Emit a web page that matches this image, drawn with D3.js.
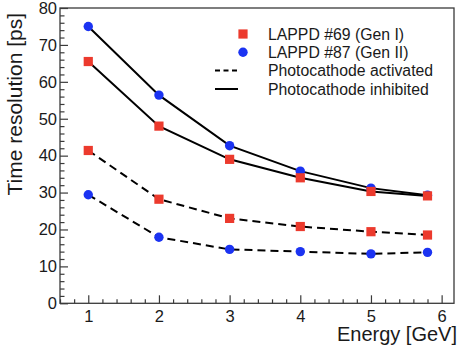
<!DOCTYPE html>
<html>
<head>
<meta charset="utf-8">
<script src="https://cdn.jsdelivr.net/npm/d3@7"></script>
<style>
  html, body { margin: 0; padding: 0; background: #fff; }
  svg { display: block; font-family: "Liberation Sans", Arial, Helvetica, sans-serif; }
</style>
</head>
<body>
<svg id="chart" width="460" height="349"></svg>
<script>
// Beam energies [GeV]
const energies = [1, 2, 3, 4, 5, 5.8];

// Time resolution [ps]
const gen1Inhibited = [65.5, 48.0, 39.0, 34.0, 30.3, 29.1];
const gen2Inhibited = [75.0, 56.4, 42.7, 35.8, 31.2, 29.3];
const gen1Activated = [41.4, 28.2, 23.0, 20.8, 19.4, 18.5];
const gen2Activated = [29.4, 17.9, 14.6, 14.0, 13.4, 13.8];

const xTicks = [1, 2, 3, 4, 5, 6];
const yTicks = [0, 10, 20, 30, 40, 50, 60, 70, 80];

const legendLabels = [
  "LAPPD #69 (Gen I)",
  "LAPPD #87 (Gen II)",
  "Photocathode activated",
  "Photocathode inhibited"
];

const RED = "#ec3a2d";
const BLUE = "#1b33f2";
const INK = "#1a1a1a";

const svg = d3.select("#chart");
const frame = { left: 60, right: 454, top: 8, bottom: 303.3 };

const x = d3.scaleLinear().domain([0.6, 6.175]).range([frame.left, frame.right]);
const y = d3.scaleLinear().domain([0, 80]).range([frame.bottom, frame.top]);

// Frame box
svg.append("rect")
  .attr("x", frame.left).attr("y", frame.top)
  .attr("width", frame.right - frame.left)
  .attr("height", frame.bottom - frame.top)
  .attr("fill", "none").attr("stroke", "#3a3a3a").attr("stroke-width", 1.3);

// Minor ticks (drawn inward)
const xMinor = d3.range(0.6, 6.1751, 0.2).filter(v => Math.abs(v - Math.round(v)) > 1e-6);
svg.append("g")
  .attr("transform", `translate(0,${frame.bottom})`)
  .call(d3.axisBottom(x).tickValues(xMinor).tickSize(-4).tickFormat(""))
  .call(g => g.select(".domain").remove())
  .selectAll("line").attr("stroke", "#3a3a3a").attr("stroke-width", 1.2);

const yMinor = d3.range(0, 80, 2).filter(v => v % 10 !== 0);
svg.append("g")
  .attr("transform", `translate(${frame.left},0)`)
  .call(d3.axisLeft(y).tickValues(yMinor).tickSize(-4.5).tickFormat(""))
  .call(g => g.select(".domain").remove())
  .selectAll("line").attr("stroke", "#3a3a3a").attr("stroke-width", 1.2);

// Major ticks with labels
const xAxis = svg.append("g")
  .attr("transform", `translate(0,${frame.bottom})`)
  .call(d3.axisBottom(x).tickValues(xTicks).tickSize(-8).tickPadding(7).tickFormat(d3.format("d")));
xAxis.select(".domain").remove();
xAxis.selectAll("line").attr("stroke", "#3a3a3a").attr("stroke-width", 1.2);
xAxis.selectAll("text")
  .attr("fill", INK).attr("font-size", 16.5)
  .attr("font-family", "Liberation Sans, Arial, sans-serif");

const yAxis = svg.append("g")
  .attr("transform", `translate(${frame.left},0)`)
  .call(d3.axisLeft(y).tickValues(yTicks).tickSize(-8).tickPadding(3).tickFormat(d3.format("d")));
yAxis.select(".domain").remove();
yAxis.selectAll("line").attr("stroke", "#3a3a3a").attr("stroke-width", 1.2);
yAxis.selectAll("text")
  .attr("fill", INK).attr("font-size", 16.5)
  .attr("font-family", "Liberation Sans, Arial, sans-serif");

// Axis titles
svg.append("text")
  .attr("transform", "translate(21.5,13) rotate(-90)")
  .attr("text-anchor", "end")
  .attr("font-size", 21).attr("fill", INK)
  .text("Time resolution [ps]");

svg.append("text")
  .attr("x", 457).attr("y", 341)
  .attr("text-anchor", "end")
  .attr("font-size", 20).attr("fill", INK)
  .text("Energy [GeV]");

// Curves
const line = d3.line().x((d, i) => x(energies[i])).y(d => y(d));
const series = [
  { values: gen2Inhibited, color: BLUE, marker: "circle", dash: null },
  { values: gen1Inhibited, color: RED, marker: "square", dash: null },
  { values: gen1Activated, color: RED, marker: "square", dash: "8,5" },
  { values: gen2Activated, color: BLUE, marker: "circle", dash: "8,5" }
];

series.forEach(s => {
  svg.append("path")
    .datum(s.values)
    .attr("d", line)
    .attr("fill", "none")
    .attr("stroke", "#000")
    .attr("stroke-width", 2)
    .attr("stroke-dasharray", s.dash);
});

function drawMarker(g, kind, cx, cy, color) {
  if (kind === "square") {
    g.append("rect")
      .attr("x", cx - 4.6).attr("y", cy - 4.6)
      .attr("width", 9.2).attr("height", 9.2)
      .attr("fill", color);
  } else {
    g.append("circle")
      .attr("cx", cx).attr("cy", cy).attr("r", 4.7)
      .attr("fill", color);
  }
}

const markers = svg.append("g");
series.forEach(s => {
  s.values.forEach((v, i) => drawMarker(markers, s.marker, x(energies[i]), y(v), s.color));
});

// Legend
const legend = svg.append("g");
const rowY = [34, 52.3, 70.6, 89];
const textX = 268;
drawMarker(legend, "square", 243, rowY[0], RED);
drawMarker(legend, "circle", 243, rowY[1], BLUE);
legend.append("line")
  .attr("x1", 215).attr("x2", 238).attr("y1", rowY[2]).attr("y2", rowY[2])
  .attr("stroke", "#000").attr("stroke-width", 2).attr("stroke-dasharray", "5,3.5");
legend.append("line")
  .attr("x1", 215).attr("x2", 238).attr("y1", rowY[3]).attr("y2", rowY[3])
  .attr("stroke", "#000").attr("stroke-width", 2);

legend.selectAll("text.label")
  .data(legendLabels)
  .enter().append("text")
  .attr("class", "label")
  .attr("x", textX)
  .attr("y", (d, i) => rowY[i])
  .attr("dy", "0.36em")
  .attr("font-size", 15.8)
  .attr("fill", INK)
  .text(d => d);
</script>
</body>
</html>
